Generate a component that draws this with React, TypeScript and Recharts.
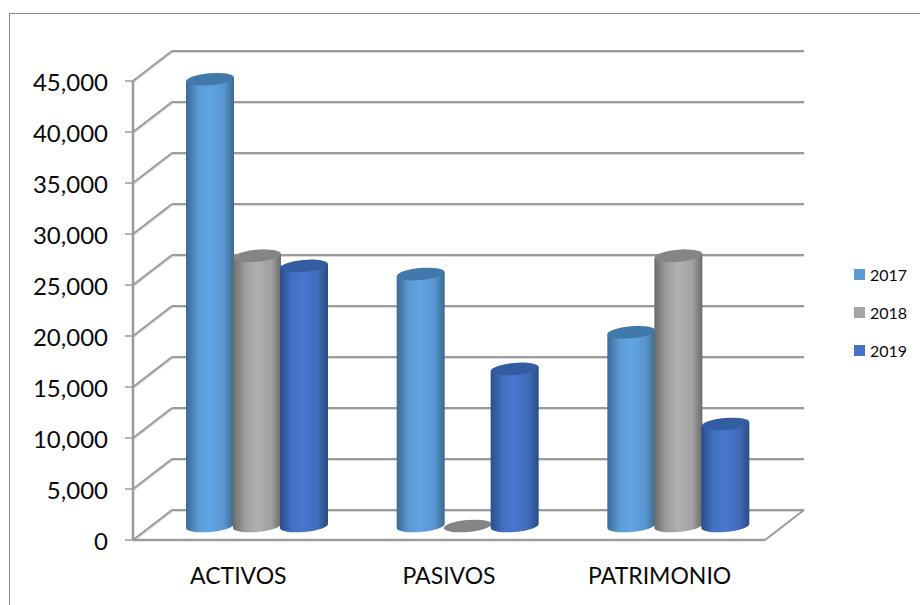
import { BarChart, Bar, XAxis, YAxis, CartesianGrid, Legend } from "recharts";

const CATEGORIES = ["ACTIVOS", "PASIVOS", "PATRIMONIO"];
const VALUES_2017 = [43800, 24700, 19000];
const VALUES_2018 = [26500, 0, 26500];
const VALUES_2019 = [25500, 15400, 10000];
const Y_TICKS = [0, 5000, 10000, 15000, 20000, 25000, 30000, 35000, 40000, 45000];

const chartData = CATEGORIES.map((name, i) => ({
  name,
  y2017: VALUES_2017[i],
  y2018: VALUES_2018[i],
  y2019: VALUES_2019[i],
}));

const GRID = "#9b9b9b";
const GRID_SOFT = "#dcdcdc";
const TEXT = "#0a0a0a";
const FONT = "Lato, 'Open Sans', sans-serif";

// depth of the fake 3D floor, and where the cylinders stand in it
const WALL_DX = 39;
const WALL_DY = -30;
const BAR_DX = 19;
const BAR_DY = -14;
const TILT = 5;

function WallLine(props: any) {
  const { x1, x2, y1, index } = props;
  const isFloor = y1 > 530;
  return (
    <g key={`wall-${index}`}>
      <line x1={x1 + 1} y1={y1 + 1} x2={x1 + WALL_DX + 1} y2={y1 + WALL_DY + 1} stroke={GRID_SOFT} strokeWidth={1.5} />
      <line x1={x1 + WALL_DX} y1={y1 + WALL_DY + 1.5} x2={x2 + WALL_DX} y2={y1 + WALL_DY + 1.5} stroke={GRID_SOFT} strokeWidth={1} />
      <line x1={x1} y1={y1} x2={x1 + WALL_DX} y2={y1 + WALL_DY} stroke={GRID} strokeWidth={2} />
      <line x1={x1 + WALL_DX} y1={y1 + WALL_DY} x2={x2 + WALL_DX} y2={y1 + WALL_DY} stroke={GRID} strokeWidth={2} />
      {isFloor && <line x1={x2} y1={y1} x2={x2 + WALL_DX} y2={y1 + WALL_DY} stroke={GRID} strokeWidth={2} />}
    </g>
  );
}

function Cylinder(props: any) {
  const { x, y, width, height, gradient, cap } = props;
  const rx = width / 2;
  const ry = 6;
  const left = x + BAR_DX;
  const right = left + width;
  const top = y + BAR_DY;
  const bottom = y + height + BAR_DY;
  const lift = rx * Math.sin((TILT * Math.PI) / 180);
  if (height < 1) {
    return (
      <ellipse
        cx={left + rx}
        cy={bottom}
        rx={rx}
        ry={ry}
        fill={cap}
        transform={`rotate(${-TILT} ${left + rx} ${bottom})`}
      />
    );
  }
  return (
    <g>
      <path
        d={`M${left} ${top + lift} L${left} ${bottom + lift} A${rx} ${ry} ${-TILT} 0 0 ${right} ${bottom - lift} L${right} ${top - lift} Z`}
        fill={`url(#${gradient})`}
      />
      <ellipse cx={left + rx} cy={top} rx={rx} ry={ry} fill={cap} transform={`rotate(${-TILT} ${left + rx} ${top})`} />
    </g>
  );
}

function LegendBox(props: any) {
  const { payload } = props;
  return (
    <div style={{ fontFamily: FONT, fontSize: 16, color: TEXT }}>
      {(payload || []).map((item: any) => (
        <div key={item.value} style={{ display: "flex", alignItems: "center", height: 38 }}>
          <span style={{ width: 11, height: 11, background: item.color, marginRight: 5 }} />
          {item.value}
        </div>
      ))}
    </div>
  );
}

function Gradient({ id, stops }: { id: string; stops: [number, string][] }) {
  return (
    <linearGradient id={id} x1="0" y1="0" x2="1" y2="0">
      {stops.map(([offset, color]) => (
        <stop key={offset} offset={offset} stopColor={color} />
      ))}
    </linearGradient>
  );
}

export default function App() {
  return (
    <div style={{ position: "absolute", left: 0, top: 0, width: 920, height: 605, background: "#fff", overflow: "hidden" }}>
      <div style={{ position: "absolute", left: 9, top: 13, width: 930, height: 620, border: "1px solid #8c8c8c" }} />
      <div style={{ position: "absolute", left: 0, top: 0 }}>
        <BarChart
          width={920}
          height={605}
          data={chartData}
          margin={{ top: 81, right: 155, bottom: 0, left: 33 }}
          barSize={48}
          barGap={-1}
        >
          <defs>
            <Gradient
              id="cyl2017"
              stops={[[0, "#3d6d96"], [0.08, "#4478a8"], [0.25, "#5a9ad4"], [0.5, "#62a4e4"], [0.8, "#5795cf"], [0.94, "#44779f"], [1, "#3b6a92"]]}
            />
            <Gradient
              id="cyl2018"
              stops={[[0, "#6c6c6c"], [0.08, "#7c7c7c"], [0.25, "#9c9c9c"], [0.5, "#b0b0b0"], [0.8, "#a0a0a0"], [0.94, "#7a7a7a"], [1, "#6c6c6c"]]}
            />
            <Gradient
              id="cyl2019"
              stops={[[0, "#2a4c85"], [0.08, "#3259a0"], [0.25, "#4270c2"], [0.5, "#4878cf"], [0.8, "#4069b8"], [0.94, "#30558f"], [1, "#2a4c85"]]}
            />
          </defs>
          <CartesianGrid vertical={false} horizontal={(p: any) => <WallLine {...p} />} />
          <XAxis
            dataKey="name"
            height={65}
            interval={0}
            tickLine={false}
            tickMargin={22}
            axisLine={{ stroke: GRID, strokeWidth: 2.5 }}
            tick={{ fill: TEXT, fontSize: 23, fontFamily: FONT }}
          />
          <YAxis
            width={100}
            domain={[0, 45000]}
            ticks={Y_TICKS}
            interval={0}
            tickSize={8}
            tickMargin={17}
            tickFormatter={(v: number) => v.toLocaleString("en-US")}
            axisLine={{ stroke: GRID, strokeWidth: 2.5 }}
            tickLine={{ stroke: GRID, strokeWidth: 1.5 }}
            tick={{ fill: TEXT, fontSize: 24, fontFamily: FONT, dy: 1 }}
          />
          <Legend
            layout="vertical"
            align="center"
            verticalAlign="middle"
            content={<LegendBox />}
            wrapperStyle={{ left: 854, top: 255, width: 66, height: 114 }}
          />
          <Bar
            dataKey="y2017"
            name="2017"
            fill="#5b9bd5"
            isAnimationActive={false}
            shape={(p: any) => <Cylinder {...p} gradient="cyl2017" cap="#4279ab" />}
          />
          <Bar
            dataKey="y2018"
            name="2018"
            fill="#a5a5a5"
            isAnimationActive={false}
            shape={(p: any) => <Cylinder {...p} gradient="cyl2018" cap="#858585" />}
          />
          <Bar
            dataKey="y2019"
            name="2019"
            fill="#4472c4"
            isAnimationActive={false}
            shape={(p: any) => <Cylinder {...p} gradient="cyl2019" cap="#325da3" />}
          />
        </BarChart>
      </div>
    </div>
  );
}
